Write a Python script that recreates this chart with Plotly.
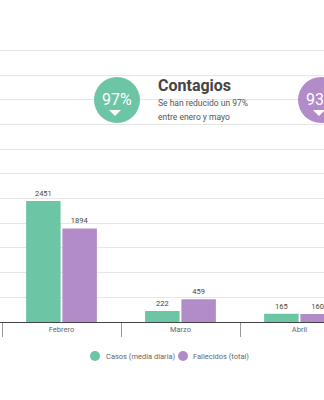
import plotly.graph_objects as go

months = ["Febrero", "Marzo", "Abril"]
casos = [2451, 222, 165]
fallecidos = [1894, 459, 160]
series_names = ["Casos (media diaria)", "Fallecidos (total)"]
green = "#6cc5a5"
purple = "#b28cc9"

W, H = 324, 400
top, bottom = 45, 322
ph = bottom - top

def px(x):
    return x / W

def py(y):
    return (bottom - y) / ph

fig = go.Figure()
for name, vals, col in [(series_names[0], casos, green), (series_names[1], fallecidos, purple)]:
    fig.add_trace(go.Bar(
        x=months, y=vals, name=name, marker=dict(color=col, line=dict(width=0)),
        text=[str(v) for v in vals], textposition="outside", cliponaxis=False,
        textfont=dict(size=7.5, color="#444", family="Roboto"), showlegend=False,
    ))

shapes = []
annotations = []
# badges
for cx, cy, col, label in [(117, 100, green, "97%"), (321, 100, purple, "93%")]:
    shapes.append(dict(type="circle", xref="paper", yref="paper", xsizemode="pixel", ysizemode="pixel",
                       xanchor=px(cx), yanchor=py(cy), x0=-23, x1=23, y0=-23, y1=23,
                       fillcolor=col, line=dict(width=0), layer="above"))
    shapes.append(dict(type="path", xref="paper", yref="paper", xsizemode="pixel", ysizemode="pixel",
                       xanchor=px(cx - 2), yanchor=py(110), path="M -6 0 L 6 0 L 0 -6 Z",
                       fillcolor="white", line=dict(width=0), layer="above"))
    annotations.append(dict(text=label, xref="paper", yref="paper", x=px(cx), y=py(99),
                            xanchor="center", yanchor="middle", showarrow=False,
                            font=dict(size=16, color="white", family="Roboto")))

annotations.append(dict(text="<b>Contagios</b>", xref="paper", yref="paper", x=px(156), y=py(85),
                        xanchor="left", yanchor="middle", showarrow=False,
                        font=dict(size=16, color="#444", family="Roboto")))
annotations.append(dict(text="Se han reducido un 97%", xref="paper", yref="paper", x=px(156), y=py(103),
                        xanchor="left", yanchor="middle", showarrow=False,
                        font=dict(size=8.5, color="#555", family="Roboto")))
annotations.append(dict(text="entre enero y mayo", xref="paper", yref="paper", x=px(156), y=py(117),
                        xanchor="left", yanchor="middle", showarrow=False,
                        font=dict(size=8.5, color="#555", family="Roboto")))

# legend (circle markers + labels)
for mx, tx, col, name in [(95, 104, green, series_names[0]), (183, 191, purple, series_names[1])]:
    shapes.append(dict(type="circle", xref="paper", yref="paper", xsizemode="pixel", ysizemode="pixel",
                       xanchor=px(mx), yanchor=py(356), x0=-5, x1=5, y0=-5, y1=5,
                       fillcolor=col, line=dict(width=0)))
    annotations.append(dict(text=name, xref="paper", yref="paper", x=px(tx), y=py(356),
                            xanchor="left", yanchor="middle", showarrow=False,
                            font=dict(size=7.5, color="#666", family="Roboto")))

fig.update_layout(
    width=W, height=H,
    margin=dict(l=0, r=0, t=top, b=H - bottom),
    paper_bgcolor="white", plot_bgcolor="white",
    font=dict(family="Roboto", size=7.5, color="#666"),
    barmode="group", bargap=0.39, bargroupgap=0.05,
    shapes=shapes, annotations=annotations, showlegend=False,
)
fig.update_xaxes(range=[-0.5 - 2 / 119, -0.5 + 322 / 119], tickson="boundaries", ticks="outside",
                 ticklen=14, tickcolor="#999", tickwidth=1, showline=True, linecolor="#444",
                 linewidth=1, tickfont=dict(size=7.5, color="#666"), showgrid=False)
fig.update_yaxes(range=[0, (bottom - top) / 0.0494], dtick=500, showticklabels=False,
                 gridcolor="#e6e6e6", gridwidth=1, zeroline=False, showline=False)

fig.write_html("out.html")
